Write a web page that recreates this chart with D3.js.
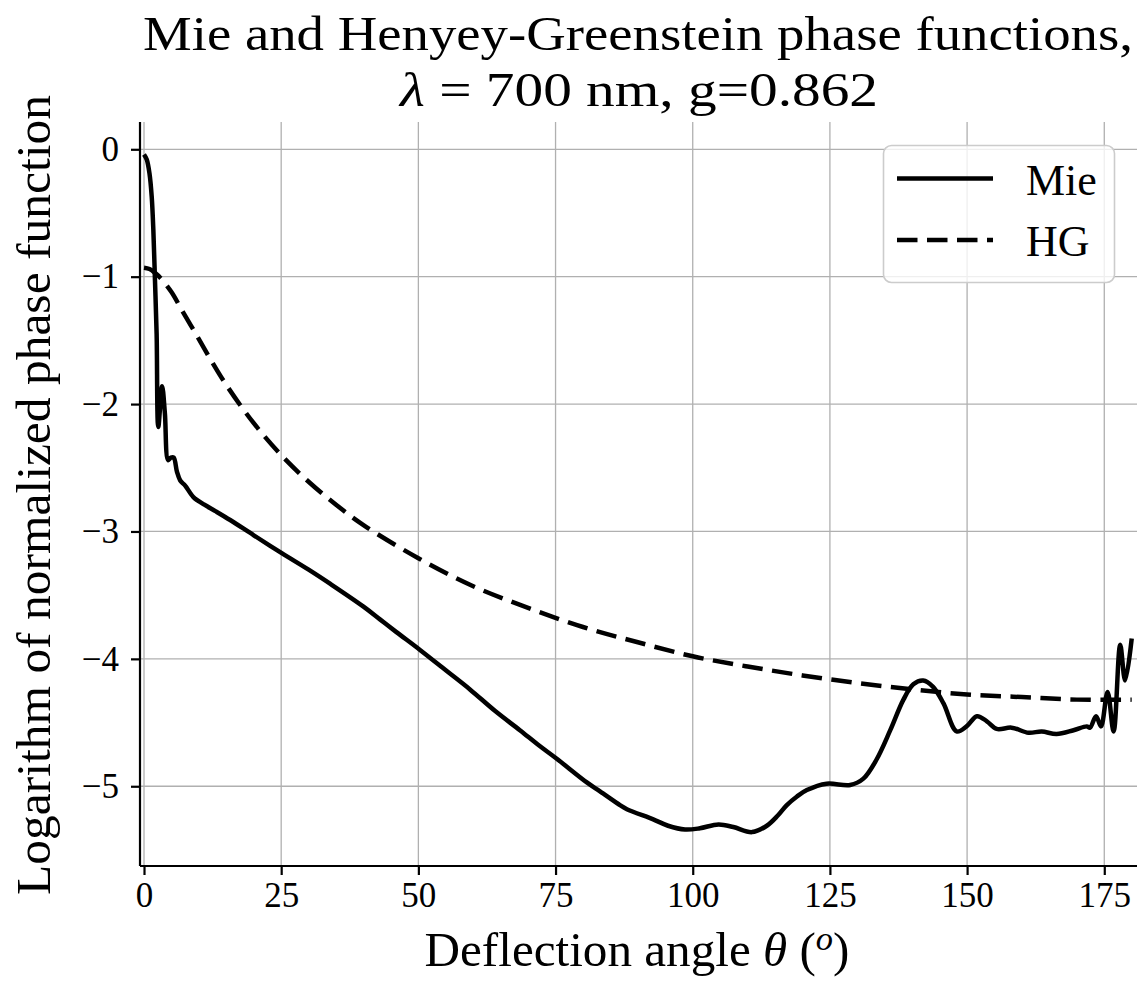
<!DOCTYPE html>
<html>
<head>
<meta charset="utf-8">
<title>Mie and Henyey-Greenstein phase functions</title>
<script src="https://cdn.jsdelivr.net/npm/d3@7"></script>
<style>
  body { margin: 0; background: #fff; }
  text { font-family: "Liberation Serif", "DejaVu Serif", serif; fill: #000; }
</style>
</head>
<body>
<svg width="1137" height="981"></svg>
<script>
// Mie phase function (log10)
var mieAngle = [0, 0.5, 1.0, 1.4, 1.7, 2.0, 2.3, 2.6, 3.3, 3.8, 4.4, 4.9, 5.4, 6.0, 6.6, 7.5, 9.0, 11, 13,
  15.7, 20, 25.1, 30, 33.9, 40, 43, 46, 50.3, 55, 59.4, 64, 68.5, 72, 75.1, 80.7, 83.1, 86.8, 88, 92.8, 95.5,
  98.6, 101.3, 104.7, 107.4, 110.8, 113.5, 115.5, 117.1, 119, 120.8, 124.4, 128.7, 131.1, 133.5, 136, 138.4,
  140.2, 142, 143.8, 145.7, 148.1, 149.9, 151.8, 153.6, 155.4, 158.1, 161.2, 163.6, 166.3, 169.4, 171.8,
  172.4, 173.5, 174.4, 175.6, 176.7, 177.9, 178.8, 180];
var mieLog = [-0.04, -0.08, -0.19, -0.37, -0.63, -1.03, -1.45, -2.18, -1.86, -2.07, -2.44, -2.42, -2.42, -2.53, -2.60, -2.64, -2.73, -2.79, -2.84,
  -2.91, -3.03, -3.17, -3.30, -3.41, -3.59, -3.69, -3.79, -3.93, -4.09, -4.24, -4.41, -4.56, -4.68, -4.78, -4.97, -5.04, -5.15, -5.18, -5.26, -5.31,
  -5.34, -5.33, -5.30, -5.32, -5.36, -5.31, -5.23, -5.15, -5.08, -5.03, -4.98, -4.99, -4.94, -4.79, -4.56, -4.32,
  -4.20, -4.17, -4.22, -4.35, -4.57, -4.53, -4.45, -4.49, -4.55, -4.54, -4.58, -4.57, -4.59, -4.56, -4.53,
  -4.54, -4.45, -4.53, -4.26, -4.57, -3.89, -4.17, -3.84];

// Henyey-Greenstein phase function (log10)
var hgAngle = [0, 1, 2, 3, 5, 7, 10, 12, 15, 20, 25, 30, 35, 40, 50, 60, 70, 80, 90, 100, 110, 120, 130, 140, 150, 160, 170, 180];
var hgLog = [-0.93, -0.94, -0.97, -1.01, -1.12, -1.27, -1.49, -1.64, -1.85, -2.15, -2.40, -2.61, -2.79, -2.95, -3.21, -3.43,
  -3.60, -3.75, -3.87, -3.98, -4.06, -4.13, -4.19, -4.24, -4.28, -4.30, -4.32, -4.32];

var xTicks = [0, 25, 50, 75, 100, 125, 150, 175];
var yTicks = [0, -1, -2, -3, -4, -5];
var seriesNames = ["Mie", "HG"];

var svg = d3.select("svg");
var x = d3.scaleLinear().domain([-0.73, 181]).range([140, 1137.2]);
var y = d3.scaleLinear().domain([-5.626, 0.215]).range([866, 121.9]);
var fmt = d3.format("d");

function fitWidth(sel, target) {
  var w = sel.node().getComputedTextLength();
  var fs = parseFloat(sel.attr("font-size"));
  sel.attr("font-size", fs * target / w);
}

// grid
var grid = svg.append("g");
grid.selectAll(".gx").data(xTicks).enter().append("line")
  .attr("x1", d => x(d)).attr("x2", d => x(d))
  .attr("y1", y.range()[0]).attr("y2", y.range()[1])
  .attr("stroke", "#b0b0b0").attr("stroke-width", 1.3);
grid.selectAll(".gy").data(yTicks).enter().append("line")
  .attr("x1", x.range()[0]).attr("x2", x.range()[1])
  .attr("y1", d => y(d)).attr("y2", d => y(d))
  .attr("stroke", "#b0b0b0").attr("stroke-width", 1.3);

// axes
var xAxis = svg.append("g").attr("transform", "translate(0," + y.range()[0] + ")")
  .call(d3.axisBottom(x).tickValues(xTicks).tickFormat(fmt).tickSize(9).tickPadding(7));
var yAxis = svg.append("g").attr("transform", "translate(" + x.range()[0] + ",0)")
  .call(d3.axisLeft(y).tickValues(yTicks).tickFormat(fmt).tickSize(9).tickPadding(12));
[xAxis, yAxis].forEach(function (a) {
  a.select(".domain").attr("stroke", "#000").attr("stroke-width", 2.2);
  a.selectAll(".tick line").attr("stroke", "#000").attr("stroke-width", 2.2);
  a.selectAll(".tick text").attr("font-size", 35).attr("font-family", null);
  a.attr("font-family", null);
});
// remove the outer tick stub at the axis ends
xAxis.select(".domain").attr("d", "M" + x.range()[0] + ",0H" + x.range()[1]);
yAxis.select(".domain").attr("d", "M0," + y.range()[0] + "V" + y.range()[1]);

// curves
svg.append("clipPath").attr("id", "clip").append("rect")
  .attr("x", x.range()[0]).attr("y", y.range()[1])
  .attr("width", x.range()[1] - x.range()[0]).attr("height", y.range()[0] - y.range()[1]);

var line = d3.line().x(d => x(d[0])).y(d => y(d[1])).curve(d3.curveCatmullRom.alpha(0.5));
var plot = svg.append("g").attr("clip-path", "url(#clip)");
plot.append("path").datum(d3.zip(hgAngle, hgLog))
  .attr("d", line).attr("fill", "none").attr("stroke", "#000")
  .attr("stroke-width", 4.5).attr("stroke-dasharray", "20.5,9.5");
plot.append("path").datum(d3.zip(mieAngle, mieLog))
  .attr("d", line).attr("fill", "none").attr("stroke", "#000")
  .attr("stroke-width", 4.5).attr("stroke-linejoin", "round");

// legend
var lg = svg.append("g");
lg.append("rect").attr("x", 883.5).attr("y", 145.5).attr("width", 231).attr("height", 137).attr("rx", 8)
  .attr("fill", "#fff").attr("fill-opacity", 0.8).attr("stroke", "#cccccc").attr("stroke-width", 1.6);
var legRows = lg.selectAll(".row").data(seriesNames).enter().append("g")
  .attr("transform", (d, i) => "translate(0," + (178.5 + i * 61.5) + ")");
legRows.append("line").attr("x1", 897).attr("x2", 993).attr("y1", 0).attr("y2", 0)
  .attr("stroke", "#000").attr("stroke-width", 4.5)
  .attr("stroke-dasharray", (d, i) => i ? "20.5,9.5" : null);
legRows.append("text").attr("x", 1026).attr("y", 16).attr("font-size", 44).text(d => d);

// title: fixed size, stretched to the reference width
var t1 = svg.append("text").attr("x", 638).attr("y", 50).attr("text-anchor", "middle")
  .attr("font-size", 48).attr("textLength", 990).attr("lengthAdjust", "spacingAndGlyphs")
  .text("Mie and Henyey-Greenstein phase functions,");
var t2 = svg.append("text").attr("x", 639).attr("y", 106).attr("text-anchor", "middle")
  .attr("font-size", 48).attr("textLength", 478).attr("lengthAdjust", "spacingAndGlyphs");
t2.append("tspan").attr("font-style", "italic").text("λ");
t2.append("tspan").text(" = 700 nm, g=0.862");

// axis labels
var xl = svg.append("text").attr("x", 637).attr("y", 966).attr("text-anchor", "middle").attr("font-size", 42);
xl.append("tspan").text("Deflection angle ");
xl.append("tspan").attr("font-style", "italic").text("θ");
xl.append("tspan").text(" (");
xl.append("tspan").attr("font-style", "italic").attr("font-size", "0.7em").attr("dy", -16).text("o");
xl.append("tspan").attr("dy", 16).text(")");
fitWidth(xl, 425);

var yl = svg.append("text").attr("transform", "translate(50,495) rotate(-90)")
  .attr("text-anchor", "middle").attr("font-size", 42)
  .text("Logarithm of normalized phase function");
fitWidth(yl, 800);
</script>
</body>
</html>
